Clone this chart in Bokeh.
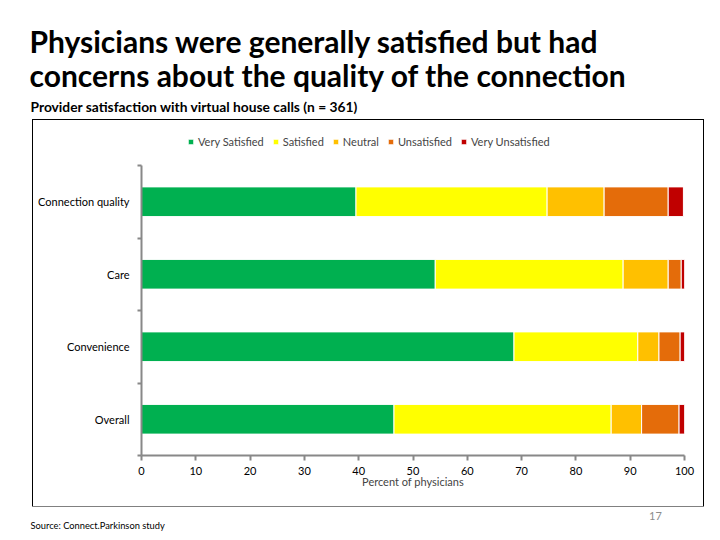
from bokeh.plotting import figure
from bokeh.models import (ColumnDataSource, Label, Legend, LegendItem, FixedTicker, Range1d)
from bokeh.layouts import column
from bokeh.embed import file_html
from bokeh.resources import INLINE

# ---- data ----
categories = ["Overall", "Convenience", "Care", "Connection quality"]
very_satisfied = [46.5, 68.6, 54.1, 39.5]
satisfied = [40.0, 22.8, 34.6, 35.2]
neutral = [5.6, 3.9, 8.3, 10.5]
unsatisfied = [6.9, 3.9, 2.4, 11.8]
very_unsatisfied = [1.0, 0.8, 0.6, 2.8]
series_names = ["Very Satisfied", "Satisfied", "Neutral", "Unsatisfied", "Very Unsatisfied"]
x_ticks = [0, 10, 20, 30, 40, 50, 60, 70, 80, 90, 100]

colors = ["#00B050", "#FFFF00", "#FFC000", "#E46C0A", "#C00000"]
FONT = "Lato"
PAGE_W = 720


def text_fig(height):
    f = figure(width=PAGE_W, height=height, output_backend="svg", toolbar_location=None,
               x_range=Range1d(0, PAGE_W), y_range=Range1d(height, 0),
               min_border_left=0, min_border_right=0, min_border_top=0, min_border_bottom=0)
    f.xaxis.visible = False
    f.yaxis.visible = False
    f.outline_line_color = None
    f.grid.visible = False
    return f


def lab(f, text, x, y, size, style="normal", color="black", align="left"):
    f.add_layout(Label(x=x, y=y, text=text, text_font=FONT, text_font_size=size,
                       text_font_style=style, text_color=color, text_align=align,
                       text_baseline="alphabetic"))


# ---- header ----
top = text_fig(120)
lab(top, "Physicians were generally satisfied but had", 29, 40, "30px", "bold")
lab(top, "concerns about the quality of the connection", 29, 74, "30px", "bold")
lab(top, "Provider satisfaction with virtual house calls (n = 361)", 30, 106, "13.8px", "bold")

# ---- chart ----
source = ColumnDataSource(dict(
    y=list(range(len(categories))),
    vs=very_satisfied, s=satisfied, n=neutral, u=unsatisfied, vu=very_unsatisfied,
))

n_cat = len(categories)
top_y = -0.5 + 334 / 72.5
p = figure(width=670, height=386, output_backend="svg", toolbar_location=None,
           x_range=Range1d(0, 100), y_range=Range1d(-0.5, top_y),
           min_border_left=108, min_border_right=19, min_border_top=1, min_border_bottom=51,
           styles={"outline": "1.5px solid black"})
p.outline_line_color = None
p.grid.visible = False

renderers = p.hbar_stack(["vs", "s", "n", "u", "vu"], y="y", height=0.41, color=colors,
                         line_color="white", line_width=1, source=source)

xa = p.xaxis[0]
xa.ticker = FixedTicker(ticks=x_ticks)
xa.axis_line_color = "#888888"
xa.axis_line_width = 2
xa.major_tick_line_color = "#888888"
xa.major_tick_line_width = 2
xa.major_tick_out = 5
xa.major_tick_in = 0
xa.minor_tick_out = 0
xa.major_label_standoff = 6
xa.major_label_text_font = FONT
xa.major_label_text_font_size = "11px"
xa.major_label_text_color = "black"
xa.axis_label = "Percent of physicians"
xa.axis_label_text_font = FONT
xa.axis_label_text_font_size = "11px"
xa.axis_label_text_font_style = "normal"
xa.axis_label_standoff = -3

ya = p.yaxis[0]
ya.bounds = (-0.5, n_cat - 0.5)
ya.ticker = FixedTicker(ticks=list(range(n_cat)),
                        minor_ticks=[i - 0.5 for i in range(n_cat + 1)])
ya.major_label_overrides = {i: c for i, c in enumerate(categories)}
ya.axis_line_color = "#888888"
ya.axis_line_width = 2
ya.major_tick_out = 0
ya.major_tick_in = 0
ya.minor_tick_out = 4
ya.minor_tick_in = 0
ya.minor_tick_line_color = "#888888"
ya.minor_tick_line_width = 2
ya.major_label_standoff = 8
ya.major_label_text_font = FONT
ya.major_label_text_font_size = "11px"
ya.major_label_text_color = "black"

legend = Legend(items=[LegendItem(label=n, renderers=[r]) for n, r in zip(series_names, renderers)],
                orientation="horizontal", location=(46, 307),
                glyph_width=7, glyph_height=7, label_height=12, label_standoff=4, spacing=8,
                padding=0, margin=0, border_line_alpha=0, background_fill_alpha=0,
                label_text_font=FONT, label_text_font_size="11px")
p.add_layout(legend, "center")

chart_box = column(p, margin=(0, 0, 0, 33))

# ---- footer ----
bottom = text_fig(34)
lab(bottom, "17", 655, 9, "11px", color="#8C8C8C", align="center")
lab(bottom, "Source: Connect.Parkinson study", 30, 19, "9.3px")

layout = column(top, chart_box, bottom, spacing=0)
open("out.html", "w").write(file_html(layout, INLINE))
